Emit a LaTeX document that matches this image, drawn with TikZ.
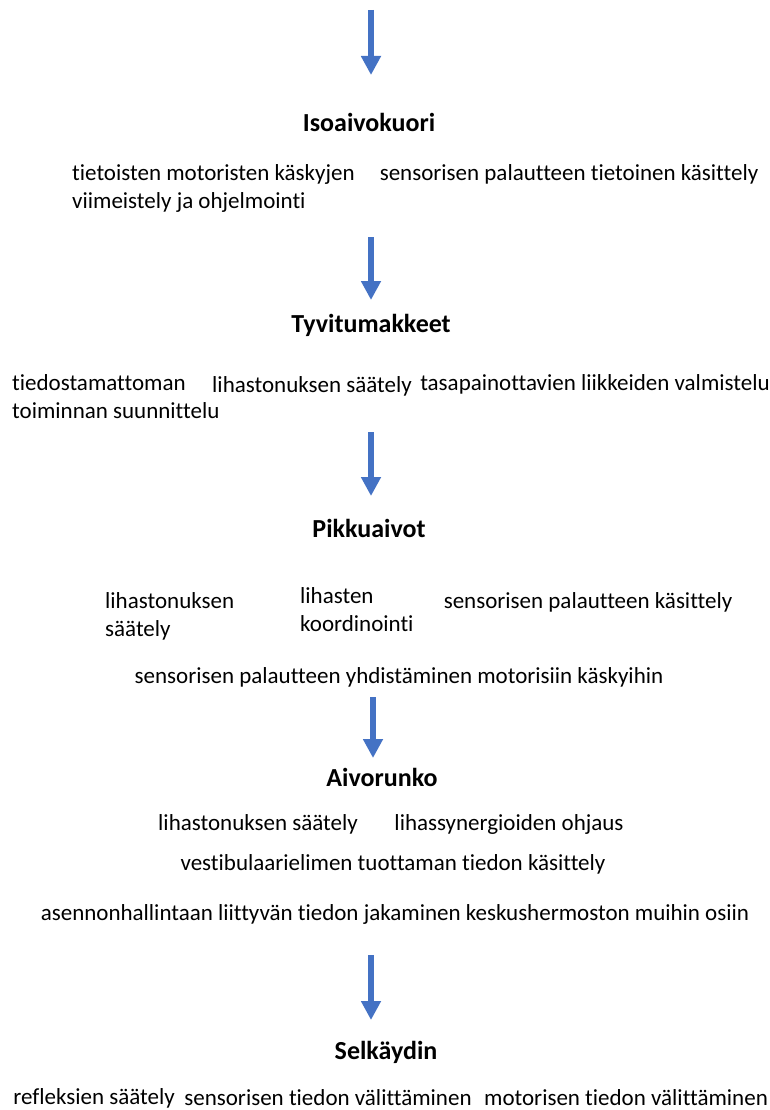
\documentclass[tikz,border=0pt]{standalone}
\usepackage{fontspec}
\setmainfont{Carlito}[Ligatures=NoCommon]
\usetikzlibrary{arrows.meta}
\definecolor{arrowblue}{HTML}{4472C4}
\tikzset{
  x=1pt, y=-1pt,
  txt/.style={inner sep=0pt, font=\fontsize{23}{28}\selectfont, text=black},
  lefttxt/.style={txt, anchor=west, align=left},
  head/.style={inner sep=0pt, font=\fontsize{26}{30}\selectfont\bfseries, text=black},
  flow/.style={draw=arrowblue, line width=6.5pt, -{Triangle[width=19pt,length=19pt]}, arrowblue}
}
\begin{document}
\begin{tikzpicture}
\useasboundingbox (0,0) rectangle (770,1110);
% arrows
\coordinate (a1s) at (371,10);  \coordinate (a1e) at (371,75);
\coordinate (a2s) at (371,237); \coordinate (a2e) at (371,300);
\coordinate (a3s) at (371,432); \coordinate (a3e) at (371,496);
\coordinate (a4s) at (373,697); \coordinate (a4e) at (373,758);
\coordinate (a5s) at (371,955); \coordinate (a5e) at (371,1020);
\draw[flow] (a1s) -- (a1e);
\draw[flow] (a2s) -- (a2e);
\draw[flow] (a3s) -- (a3e);
\draw[flow] (a4s) -- (a4e);
\draw[flow] (a5s) -- (a5e);
% Isoaivokuori
\node[head] (h1) at (369,122) {Isoaivokuori};
\node[lefttxt] (t11) at (72,188) {tietoisten motoristen käskyjen\\viimeistely ja ohjelmointi};
\node[txt] (t12) at (569,174) {sensorisen palautteen tietoinen käsittely};
% Tyvitumakkeet
\node[head] (h2) at (371,325) {Tyvitumakkeet};
\node[lefttxt] (t21) at (12,397) {tiedostamattoman\\toiminnan suunnittelu};
\node[txt] (t22) at (312,386) {lihastonuksen säätely};
\node[txt] (t23) at (595,384) {tasapainottavien liikkeiden valmistelu};
% Pikkuaivot
\node[head] (h3) at (369,528) {Pikkuaivot};
\node[lefttxt] (t31) at (105,616) {lihastonuksen\\säätely};
\node[lefttxt] (t32) at (300,610) {lihasten\\koordinointi};
\node[txt] (t33) at (588,602) {sensorisen palautteen käsittely};
\node[txt] (t34) at (399,677) {sensorisen palautteen yhdistäminen motorisiin käskyihin};
% Aivorunko
\node[head] (h4) at (382,777) {Aivorunko};
\node[txt] (t41) at (258,824) {lihastonuksen säätely};
\node[txt] (t42) at (509,824) {lihassynergioiden ohjaus};
\node[txt] (t43) at (393,864) {vestibulaarielimen tuottaman tiedon käsittely};
\node[txt] (t44) at (395,914) {asennonhallintaan liittyvän tiedon jakaminen keskushermoston muihin osiin};
% Selkaydin
\node[head] (h5) at (386,1052) {Selkäydin};
\node[txt] (t51) at (94,1098) {refleksien säätely};
\node[txt] (t52) at (328,1098) {sensorisen tiedon välittäminen};
\node[txt] (t53) at (626,1098) {motorisen tiedon välittäminen};
\end{tikzpicture}
\end{document}
